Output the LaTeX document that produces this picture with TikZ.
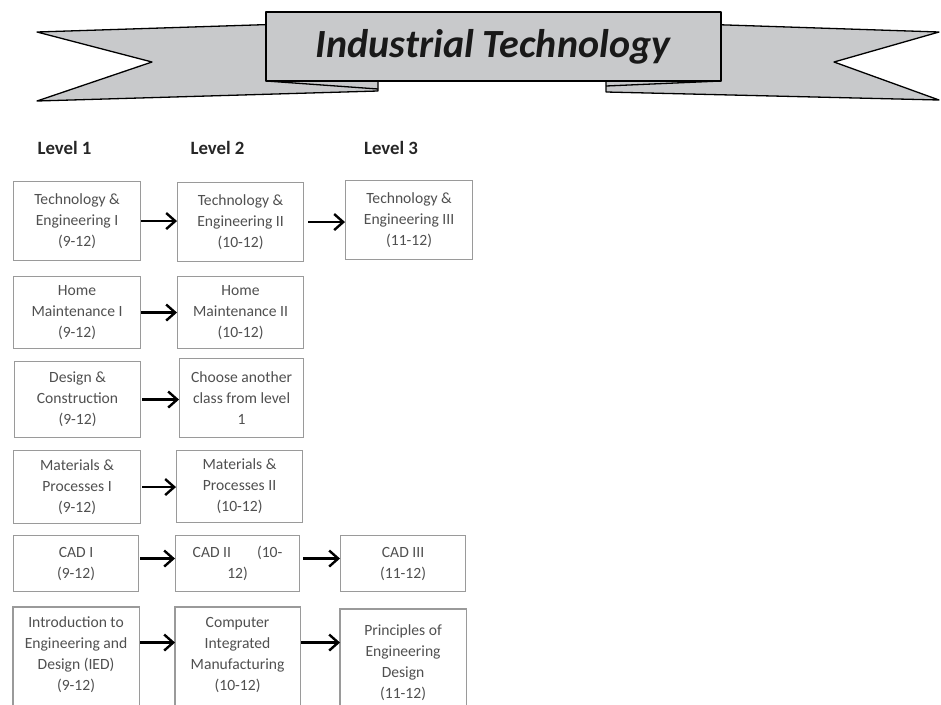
\documentclass[tikz,border=0pt]{standalone}
\usepackage{fontspec}
\setmainfont{Carlito}
\usetikzlibrary{arrows.meta}
\definecolor{bannergray}{HTML}{C8C9CB}
\definecolor{boxline}{HTML}{9A9A9A}
\definecolor{boxtext}{HTML}{505050}
\begin{document}
\begin{tikzpicture}[x=1pt,y=-1pt,
  box/.style={draw=boxline, line width=1.1pt, fill=white, text=boxtext,
    font=\fontsize{15.6}{21}\selectfont, align=center, anchor=north west, inner sep=0pt},
  openbox/.style={box, draw=none},
  openside/.style={draw=boxline, line width=1.1pt},
  lvl/.style={font=\bfseries\fontsize{18.8}{22}\selectfont, text=black!85},
  arr/.style={line width=2.4pt, -{Straight Barb[length=9pt,width=16pt,line width=2.4pt]}},
  banner/.style={fill=bannergray, draw=black, line width=1.3pt, line join=round}]
\useasboundingbox (0,0) rectangle (941,704);
\clip (0,0) rectangle (941,704);

% banner
\path[banner] (37,32) -- (378,21) -- (378,91) -- (37,101) -- (152,62) -- cycle;
\path[banner] (939,32) -- (606,21) -- (606,92) -- (939,100) -- (834,62) -- cycle;
\draw[line width=1.3pt] (266,81) -- (378,89);
\draw[line width=1.3pt] (606,86) -- (721,81);
\path[banner] (266,12) rectangle (721,81);
\node[font=\bfseries\itshape\fontsize{40}{46}\selectfont, text=black!90, anchor=base] (title) at (493,57) {Industrial Technology};

% level headings
\node[lvl] (l1) at (64.5,148) {Level 1};
\node[lvl] (l2) at (217.5,148) {Level 2};
\node[lvl] (l3) at (391,148) {Level 3};

% row 1
\node[box, minimum width=127pt, minimum height=79pt] (a1) at (13,181) {Technology \&\\Engineering I\\(9-12)};
\node[box, minimum width=126pt, minimum height=79pt] (a2) at (177,182) {Technology \&\\Engineering II\\(10-12)};
\node[box, minimum width=127pt, minimum height=79pt] (a3) at (345,180) {Technology \&\\Engineering III\\(11-12)};
% row 2
\node[box, minimum width=127pt, minimum height=72pt] (b1) at (13,276) {Home\\Maintenance I\\(9-12)};
\node[box, minimum width=126pt, minimum height=72pt] (b2) at (177,276) {Home\\Maintenance II\\(10-12)};
% row 3
\node[box, minimum width=126pt, minimum height=76pt] (c1) at (14,361) {Design \&\\Construction\\(9-12)};
\node[box, minimum width=124pt, minimum height=79pt] (c2) at (179,358) {Choose another\\class from level\\1};
% row 4
\node[box, minimum width=127pt, minimum height=73pt] (d1) at (13,450) {Materials \&\\Processes I\\(9-12)};
\node[box, minimum width=126pt, minimum height=72pt] (d2) at (176,450) {Materials \&\\Processes II\\(10-12)};
% row 5
\node[box, minimum width=125pt, minimum height=56pt] (e1) at (13,535) {CAD I\\(9-12)};
\node[box, minimum width=124pt, minimum height=56pt] (e2) at (175,535) {CAD II\hspace{26pt}(10-\\12)};
\node[box, minimum width=125pt, minimum height=56pt] (e3) at (340,535) {CAD III\\(11-12)};
% row 6 (cut by the page edge)
\node[openbox, minimum width=125pt, minimum height=94pt] (f1) at (13,607) {Introduction to\\Engineering and\\Design (IED)\\(9-12)};
\node[openbox, minimum width=124pt, minimum height=94pt] (f2) at (175,607) {Computer\\Integrated\\Manufacturing\\(10-12)};
\node[openbox, minimum width=125pt, minimum height=107pt] (f3) at (340,609) {Principles of\\Engineering\\Design\\(11-12)};
\foreach \n in {f1,f2,f3}{
  \draw[openside] ([yshift=-30pt]\n.south west) -- (\n.north west) -- (\n.north east) -- ([yshift=-30pt]\n.south east);
}

% arrows
\draw[arr] (a1.east) -- (a2.west |- a1.east);
\draw[arr] ([xshift=4pt]a2.east) -- (a3.west |- a2.east);
\draw[arr] (b1.east) -- (b2.west);
\draw[arr] ([xshift=1pt]c1.east) -- (c2.west |- c1.east);
\draw[arr] ([xshift=1pt]d1.east) -- (d2.west |- d1.east);
\draw[arr] ([xshift=1pt,yshift=5pt]e1.east) -- ([yshift=5pt]e2.west);
\draw[arr] ([xshift=3pt,yshift=5pt]e2.east) -- ([yshift=5pt]e3.west);
\draw[arr] ([xshift=1pt,yshift=12pt]f1.east) -- ([yshift=12pt]f2.west);
\draw[arr] ([xshift=1pt,yshift=12pt]f2.east) -- ([yshift=12pt]f2.east -| f3.west);
\end{tikzpicture}
\end{document}
